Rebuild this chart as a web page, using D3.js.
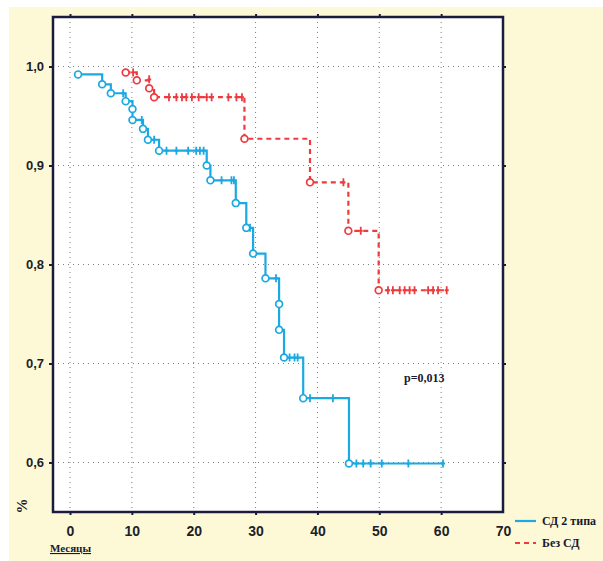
<!DOCTYPE html>
<html>
<head>
<meta charset="utf-8">
<script src="https://cdn.jsdelivr.net/npm/d3@7/dist/d3.min.js"></script>
<style>
  html, body { margin: 0; padding: 0; background: #ffffff; }
  svg { display: block; }
</style>
</head>
<body>
<svg id="chart" width="603" height="561"></svg>
<script>
// Kaplan–Meier survival: patients with type 2 diabetes vs. without diabetes

// Axis ticks
const xTicks = [0, 10, 20, 30, 40, 50, 60, 70];
const yTicks = [0.6, 0.7, 0.8, 0.9, 1.0];

// "СД 2 типа" — event times (months) and survival after each event
const dmEventTimes = [1.3, 5.2, 6.6, 9.0, 10.1, 10.1, 11.8, 12.6, 14.4, 22.1, 22.7, 26.8, 28.5, 29.6, 31.6, 33.8, 33.8, 34.6, 37.7, 45.1];
const dmEventSurv  = [0.992, 0.982, 0.973, 0.965, 0.957, 0.946, 0.937, 0.926, 0.915, 0.900, 0.885, 0.862, 0.837, 0.811, 0.786, 0.760, 0.734, 0.706, 0.665, 0.599];
// censored observations
const dmCensorTimes = [8.6, 11.6, 13.6, 15.6, 17.2, 19.1, 20.4, 21.0, 21.6, 24.5, 26.1, 26.5, 29.1, 33.3, 35.5, 36.3, 36.8, 38.8, 42.5, 46.3, 47.4, 48.6, 50.4, 54.7, 60.3];
const dmCensorSurv  = [0.973, 0.946, 0.926, 0.915, 0.915, 0.915, 0.915, 0.915, 0.915, 0.885, 0.885, 0.885, 0.837, 0.786, 0.706, 0.706, 0.706, 0.665, 0.665, 0.599, 0.599, 0.599, 0.599, 0.599, 0.599];

// "Без СД"
const noDmEventTimes = [9.0, 10.8, 12.8, 13.6, 28.2, 38.8, 45.0, 49.9];
const noDmEventSurv  = [0.994, 0.986, 0.978, 0.969, 0.927, 0.883, 0.834, 0.774];
const noDmCensorTimes = [10.2, 12.8, 16.0, 17.2, 18.1, 18.8, 19.7, 20.8, 22.1, 22.9, 25.6, 26.9, 27.8, 44.2, 47.0, 51.4, 52.2, 53.3, 54.1, 54.9, 55.7, 57.9, 58.7, 59.5, 60.9];
const noDmCensorSurv  = [0.994, 0.987, 0.969, 0.969, 0.969, 0.969, 0.969, 0.969, 0.969, 0.969, 0.969, 0.969, 0.969, 0.883, 0.834, 0.774, 0.774, 0.774, 0.774, 0.774, 0.774, 0.774, 0.774, 0.774, 0.774];

const seriesNames = ["СД 2 типа", "Без СД"];
const pLabel = "p=0,013";
const xTitle = "Месяцы";
const yTitle = "%";

const svg = d3.select("#chart");
const W = 603, H = 561;
const plot = { left: 53, top: 17, right: 503, bottom: 512 };

const blue = "#1ba9e1";
const red = "#ef3a3e";
const frameColor = "#1b1c3c";

// page background
svg.append("rect").attr("x", 0).attr("y", 0).attr("width", W).attr("height", H).attr("fill", "#ffffff");
svg.append("rect").attr("x", 9).attr("y", 7).attr("width", W - 9).attr("height", H - 7).attr("fill", "#fdf8d6");
svg.append("rect")
  .attr("x", plot.left).attr("y", plot.top)
  .attr("width", plot.right - plot.left).attr("height", plot.bottom - plot.top)
  .attr("fill", "#ffffff");

const x = d3.scaleLinear().domain([-2.75, 70]).range([plot.left, plot.right]);
const y = d3.scaleLinear().domain([0.55, 1.05]).range([plot.bottom, plot.top]);

// dotted grid
const grid = svg.append("g");
grid.selectAll("line.gx").data(xTicks.filter(d => d < 70)).join("line")
  .attr("x1", d => x(d)).attr("x2", d => x(d))
  .attr("y1", plot.top).attr("y2", plot.bottom)
  .attr("stroke", "#7d7d8a").attr("stroke-width", 1)
  .attr("stroke-dasharray", "1,4");
grid.selectAll("line.gy").data(yTicks).join("line")
  .attr("x1", plot.left).attr("x2", plot.right)
  .attr("y1", d => y(d)).attr("y2", d => y(d))
  .attr("stroke", "#7d7d8a").attr("stroke-width", 1)
  .attr("stroke-dasharray", "1,4");

// axes
const xAxis = d3.axisBottom(x).tickValues(xTicks).tickSize(3).tickPadding(9).tickFormat(d3.format("d"));
const yAxis = d3.axisLeft(y).tickValues(yTicks).tickSize(4).tickPadding(5)
  .tickFormat(d => d3.format(".1f")(d).replace(".", ","));

const gx = svg.append("g").attr("transform", `translate(0,${plot.bottom})`).call(xAxis);
const gy = svg.append("g").attr("transform", `translate(${plot.left},0)`).call(yAxis);
[gx, gy].forEach(g => {
  g.select(".domain").remove();
  g.selectAll(".tick line").attr("stroke", frameColor).attr("stroke-width", 2);
  g.selectAll(".tick text")
    .attr("fill", "#1e1e2a")
    .style("font-family", "'Liberation Sans', Arial, sans-serif")
    .style("font-weight", "bold")
    .style("font-size", "13px");
});
gx.selectAll(".tick text").attr("dy", "0.85em").style("font-size", "14px");
gx.selectAll(".tick line").filter(d => d === 70).remove();

// mirrored ticks on top and right
const gTop = svg.append("g").attr("transform", `translate(0,${plot.top})`)
  .call(d3.axisTop(x).tickValues(xTicks.filter(d => d < 70)).tickSize(3).tickFormat(""));
const gRight = svg.append("g").attr("transform", `translate(${plot.right},0)`)
  .call(d3.axisRight(y).tickValues(yTicks).tickSize(3).tickFormat(""));
[gTop, gRight].forEach(g => {
  g.select(".domain").remove();
  g.selectAll(".tick line").attr("stroke", frameColor).attr("stroke-width", 2);
});

// frame
svg.append("rect")
  .attr("x", plot.left).attr("y", plot.top)
  .attr("width", plot.right - plot.left).attr("height", plot.bottom - plot.top)
  .attr("fill", "none").attr("stroke", frameColor).attr("stroke-width", 2.5);

// survival curves
function curvePoints(times, surv, censT) {
  const pts = times.map((t, i) => [t, surv[i]]);
  pts.push([d3.max(censT), surv[surv.length - 1]]);
  return pts;
}
const line = d3.line().x(d => x(d[0])).y(d => y(d[1])).curve(d3.curveStepAfter);

const series = [
  { times: dmEventTimes, surv: dmEventSurv, cT: dmCensorTimes, cS: dmCensorSurv, color: blue, dash: null },
  { times: noDmEventTimes, surv: noDmEventSurv, cT: noDmCensorTimes, cS: noDmCensorSurv, color: red, dash: "5,4" }
];

series.forEach(s => {
  const g = svg.append("g");
  g.append("path")
    .datum(curvePoints(s.times, s.surv, s.cT))
    .attr("d", line)
    .attr("fill", "none")
    .attr("stroke", s.color)
    .attr("stroke-width", 2.2)
    .attr("stroke-dasharray", s.dash);
  // censored marks
  g.selectAll("path.cens").data(s.cT.map((t, i) => [t, s.cS[i]])).join("path")
    .attr("d", d => `M${x(d[0])},${y(d[1]) - 4}V${y(d[1]) + 4}M${x(d[0]) - 2},${y(d[1])}H${x(d[0]) + 2}`)
    .attr("stroke", s.color).attr("stroke-width", 1.8).attr("fill", "none");
  // events
  g.selectAll("circle").data(s.times.map((t, i) => [t, s.surv[i]])).join("circle")
    .attr("cx", d => x(d[0])).attr("cy", d => y(d[1])).attr("r", 3.4)
    .attr("fill", "#ffffff").attr("stroke", s.color).attr("stroke-width", 1.7);
});

// p-value
svg.append("text")
  .attr("x", 404).attr("y", 382)
  .attr("fill", "#1a1a2e")
  .style("font-family", "'Liberation Serif', 'Times New Roman', serif")
  .style("font-weight", "bold")
  .style("font-size", "12px")
  .text(pLabel);

// axis titles
svg.append("text")
  .attr("transform", "translate(27,506) rotate(-90)")
  .attr("text-anchor", "middle")
  .attr("fill", "#1a1a2e")
  .style("font-family", "'Liberation Serif', 'Times New Roman', serif")
  .style("font-weight", "bold")
  .style("font-size", "15px")
  .text(yTitle);

svg.append("text")
  .attr("x", 50).attr("y", 552)
  .attr("fill", "#1a1a2e")
  .attr("text-decoration", "underline")
  .style("font-family", "'Liberation Serif', 'Times New Roman', serif")
  .style("font-weight", "bold")
  .style("font-size", "11px")
  .text(xTitle);

// legend
const legend = svg.append("g");
[0, 1].forEach(i => {
  const ly = 521 + i * 22;
  legend.append("line")
    .attr("x1", 515).attr("x2", 536).attr("y1", ly).attr("y2", ly)
    .attr("stroke", series[i].color).attr("stroke-width", 2.2)
    .attr("stroke-dasharray", series[i].dash);
  legend.append("text")
    .attr("x", 542).attr("y", ly + 4)
    .attr("fill", "#1a1a2e")
    .style("font-family", "'Liberation Serif', 'Times New Roman', serif")
    .style("font-weight", "bold")
    .style("font-size", "12px")
    .text(seriesNames[i]);
});
</script>
</body>
</html>
